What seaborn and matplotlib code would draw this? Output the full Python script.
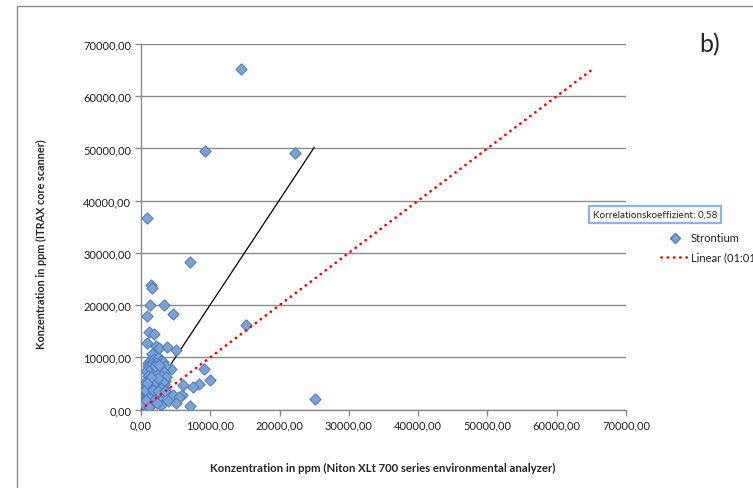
import matplotlib
matplotlib.use('Agg')
import matplotlib.pyplot as plt
from matplotlib.lines import Line2D
from matplotlib.patches import Rectangle
from matplotlib.ticker import FuncFormatter, MultipleLocator
import numpy as np
import pandas as pd
import seaborn as sns

# ─── Daten ───
# Strontium: Niton XLt (x) gegen ITRAX (y), ppm
sr_niton = [
    14500, 9300, 22200, 900, 7100, 15200, 25100,
    1400, 1650, 1250, 3250, 900, 4650, 1100, 1900,
    900, 2150, 2600, 3700, 5100, 1600, 2700, 1050, 4300, 9100,
    9900, 8400, 7500, 6000, 4600, 5900, 5500, 3900, 5000, 2900,
    7100, 3400, 3300, 3500, 3000, 2500,
    1250, 1830, 2450, 2930, 1010, 1630, 2210, 3170, 3420, 770,
    1490, 2120, 2700, 3270, 1010, 1730, 2310, 2930, 3560, 770,
    1340, 1970, 2600, 3170, 530, 1150, 1730, 2310, 2930, 290,
    870, 1490, 2120, 530, 1150, 1730, 290, 870, 190, 680,
    50, 600, 400, 1000, 1300, 1900, 2400, 600, 1400, 2000,
    2600, 900, 1800, 2500, 3420, 1500, 2300, 300, 700, 1200,
]
sr_itrax = [
    65300, 49500, 49100, 36700, 28200, 16200, 2000,
    23900, 23200, 20100, 20100, 17900, 18300, 14900, 14500,
    12700, 12200, 11700, 11900, 11400, 10600, 9700, 8900, 7800, 7800,
    5700, 4900, 4400, 4700, 2800, 2800, 2400, 1700, 1200, 900,
    700, 5500, 4800, 4000, 3100, 2200,
    9350, 9680, 9810, 9350, 8390, 8720, 8910, 9040, 8280, 7430,
    7760, 7890, 7430, 7240, 6480, 6610, 6800, 6360, 6170, 5520,
    5840, 5710, 5330, 5210, 4560, 4690, 4450, 4250, 4060, 3600,
    3410, 3300, 2970, 2640, 2340, 2010, 1690, 1380, 860, 610,
    100, 200, 1800, 2800, 4000, 5000, 6000, 3800, 6200, 8300,
    8500, 5000, 3800, 3500, 3600, 900, 1300, 1100, 1900, 500,
]

# Regressionsgerade (schwarz) und 1:1-Linie (rot gepunktet)
reg_x = [0, 25000]
reg_y = [0, 50200]
one_to_one = [0, 65000]

korrelation = '0,58'

df = pd.DataFrame({'niton': sr_niton, 'itrax': sr_itrax})

# ─── Stil ───
sns.set_style('white')
plt.rcParams['font.family'] = ['Lato', 'DejaVu Sans']

W, H = 753, 489
RED_DOTS = (0, (0.05, 2.2))
fig = plt.figure(figsize=(W / 100, H / 100), dpi=100)
ax = fig.add_axes([141 / W, 1 - 410.5 / H, 485 / W, 365.5 / H])

# äußerer Diagrammrahmen
fig.add_artist(Rectangle((17 / W, -0.1), 1.2, 1.1 - 7 / H, transform=fig.transFigure,
                         fill=False, edgecolor='#8c8c8c', linewidth=1.0))

ax.plot(reg_x, reg_y, color='black', linewidth=0.9, zorder=2)
sns.scatterplot(data=df, x='niton', y='itrax', marker='D', s=32,
                color='#7ba3d8', edgecolor='#4f7fc0', linewidth=0.8,
                ax=ax, zorder=3, legend=False)
ax.plot(one_to_one, one_to_one, color='#ff0000', linewidth=2.0,
        linestyle=RED_DOTS, dash_capstyle='round', zorder=4)

ax.set_xlim(0, 70000)
ax.set_ylim(0, 70000)
ax.xaxis.set_major_locator(MultipleLocator(10000))
ax.yaxis.set_major_locator(MultipleLocator(10000))
fmt = FuncFormatter(lambda v, p: f'{v:.2f}'.replace('.', ','))
ax.xaxis.set_major_formatter(fmt)
ax.yaxis.set_major_formatter(fmt)
ax.tick_params(axis='both', labelsize=8, colors='#8c8c8c', labelcolor='#222222',
               length=4, width=1, direction='out', pad=3)
ax.tick_params(axis='x', bottom=True)
ax.tick_params(axis='y', left=True)

ax.grid(axis='y', color='#8c8c8c', linewidth=1.0)
ax.grid(axis='x', visible=False)
ax.set_axisbelow(True)
for side in ['top', 'right']:
    ax.spines[side].set_visible(False)
for side in ['left', 'bottom']:
    ax.spines[side].set_color('#8c8c8c')
    ax.spines[side].set_linewidth(1.0)

ax.set_xlabel('Konzentration in ppm (Niton XLt 700 series environmental analyzer)',
              fontsize=8.2, fontweight='bold')
ax.set_ylabel('Konzentration in ppm (ITRAX core scanner)', fontsize=7.8, fontweight='bold')
ax.xaxis.set_label_coords((383 - 141) / 485, (410.5 - 463) / 365.5)
ax.yaxis.set_label_coords((47 - 141) / 485, (410.5 - 244) / 365.5)

# Korrelationskoeffizient-Kasten
fig.text(593 / W, 1 - 215.5 / H, f'Korrelationskoeffizient: {korrelation}', fontsize=7.1,
         va='center', ha='left',
         bbox=dict(boxstyle='square,pad=0.4', facecolor='white', edgecolor='#8eb4e3', linewidth=1.6))

# Legende (rechts abgeschnitten wie im Original)
leg_handles = [
    Line2D([], [], marker='D', linestyle='none', markersize=5,
           markerfacecolor='#7ba3d8', markeredgecolor='#4f7fc0'),
    Line2D([], [], color='#ff0000', linewidth=2.0, linestyle=RED_DOTS, dash_capstyle='round'),
]
fig.legend(leg_handles, ['Strontium', 'Linear (01:01)'], loc='upper left',
           bbox_to_anchor=(657 / W, 1 - 229 / H), frameon=False, fontsize=8,
           handlelength=2.5, handletextpad=0.15, labelspacing=0.75, borderaxespad=0)

fig.text(699 / W, 1 - 45 / H, 'b)', fontsize=18, va='center', ha='left')

fig.savefig('out.png', dpi=100)
